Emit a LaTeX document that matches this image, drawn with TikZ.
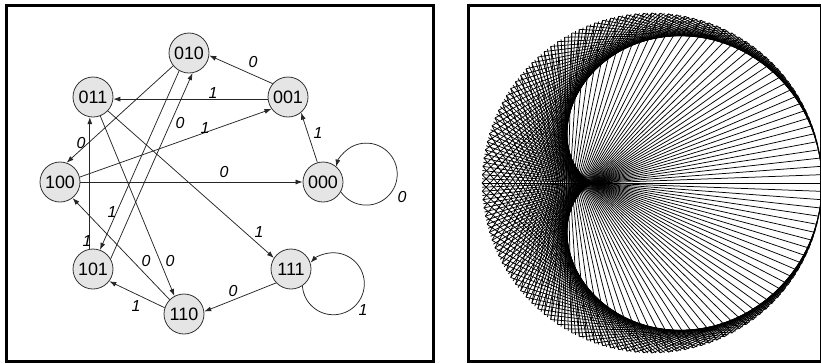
\documentclass[tikz,border=0pt]{standalone}
\usepackage{fontspec}
\newfontfamily\arial{Liberation Sans}
\usetikzlibrary{arrows.meta}
\begin{document}
\begin{tikzpicture}[x=1bp,y=1bp,
  state/.style={circle, draw=black!80, line width=0.8bp, fill=black!10, minimum size=40bp, inner sep=0pt, font=\arial\fontsize{18}{18}\selectfont},
  lbl/.style={inner sep=0pt, font=\arial\itshape\fontsize{16}{16}\selectfont},
  edge/.style={draw=black!85, line width=0.75bp, -{Latex[length=7bp,width=5bp]}},
  frame/.style={draw=black, line width=3bp},
  chord/.style={line width=0.75bp, black}]
\useasboundingbox (0,0) rectangle (821,-363);
% frames
\draw[frame] (6,-5) rectangle (433,-361);
\draw[frame] (468,-5) rectangle (821.5,-361);
% states
\node[state] (n010) at (189,-53) {010};
\node[state] (n011) at (93,-97) {011};
\node[state] (n001) at (288,-97) {001};
\node[state] (n100) at (60,-182) {100};
\node[state] (n000) at (323,-182) {000};
\node[state] (n101) at (93,-269) {101};
\node[state] (n111) at (291,-269) {111};
\node[state] (n110) at (184,-314) {110};
% edges
\draw[edge] (n001.139) -- (n010.-7);
\draw[edge] (n001.186) -- (n011.-6);
\draw[edge] (n100.14) -- (n001.216);
\draw[edge] (n100.east) -- (n000.west);
\draw[edge] (n010.219) -- (n100.71);
\draw[edge] (n010.241) -- (n101.70);
\draw[edge] (n101.30) -- (n010.-80);
\draw[edge] (n101.99) -- (n011.-99);
\draw[edge] (n011.-69) -- (n110.118);
\draw[edge] (n011.-43) -- (n111.147);
\draw[edge] (n110.135) -- (n100.-52);
\draw[edge] (n110.162) -- (n101.-37);
\draw[edge] (n111.223) -- (n110.7);
\draw[edge] (n000.106) -- (n001.-50);
\draw[edge] (n000.-29) arc[start angle=215, end angle=526, radius=31];
\draw[edge] (n111.-56) arc[start angle=184, end angle=497, radius=31];
% labels
\node[lbl] (l1) at (253,-62) {0};
\node[lbl] (l2) at (213,-93) {1};
\node[lbl] (l3) at (205,-128) {1};
\node[lbl] (l4) at (180,-123) {0};
\node[lbl] (l5) at (81,-143) {0};
\node[lbl] (l6) at (318,-133) {1};
\node[lbl] (l7) at (224,-172) {0};
\node[lbl] (l8) at (402,-197) {0};
\node[lbl] (l9) at (112,-212) {1};
\node[lbl] (l10) at (87,-241) {1};
\node[lbl] (l11) at (259,-232) {1};
\node[lbl] (l12) at (146,-261) {0};
\node[lbl] (l13) at (170,-261) {0};
\node[lbl] (l14) at (136,-306) {1};
\node[lbl] (l15) at (233,-291) {0};
\node[lbl] (l16) at (363,-310) {1};
% chord diagram
\begin{scope}
\clip (469.5,-6.5) rectangle (821,-359.5);
\foreach \k in {0,...,255}{
  \draw[chord,shift={(652,-183)}] ({\k*1.40625}:170) -- ({\k*2.8125}:170);
}
\end{scope}
\end{tikzpicture}
\end{document}
